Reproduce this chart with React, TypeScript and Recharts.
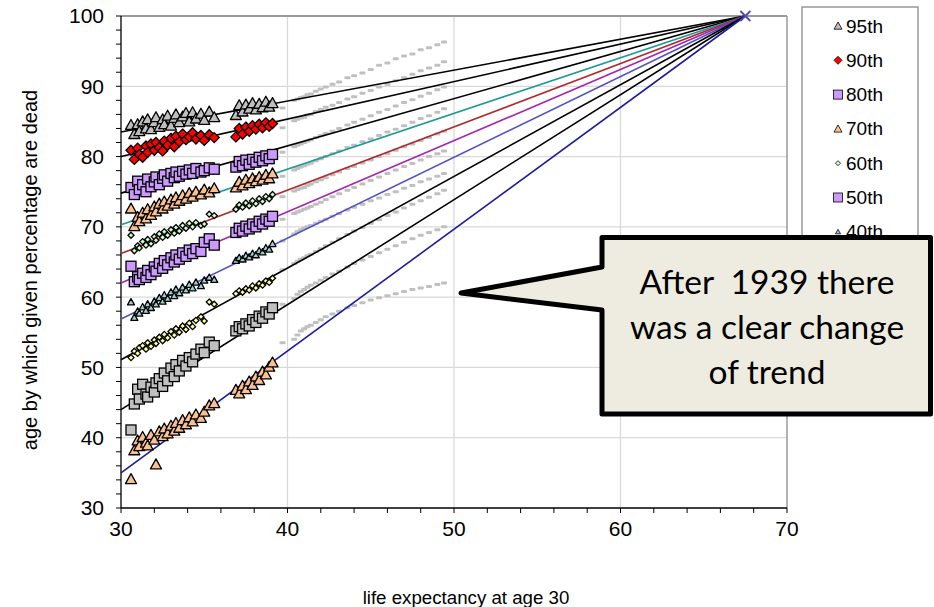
import React from 'react'
import { ComposedChart, Scatter, XAxis, YAxis, CartesianGrid, ReferenceLine } from 'recharts'

// life expectancy at age 30, one value per year up to 1939
const lifeExp = [
  30.6, 30.8, 31.0, 31.1, 31.3, 31.5, 31.6, 31.8, 32.0, 32.1, 32.3, 32.5, 32.6, 32.8,
  33.0, 33.2, 33.3, 33.5, 33.7, 33.9, 34.1, 34.3, 34.5, 34.8, 35.0, 35.3, 35.6,
  36.9, 37.1, 37.3, 37.5, 37.7, 37.9, 38.1, 38.3, 38.5, 38.7, 38.9, 39.1,
]

// age by which the given percentage are dead (same years as lifeExp)
const p95 = [84.5, 83.2, 84.6, 83.6, 85.0, 84.0, 85.3, 83.9, 84.9, 85.6, 84.2, 85.3, 84.6, 85.8, 84.4, 85.5, 86.0, 84.9, 85.7, 86.2, 85.0, 86.3, 85.4, 86.1, 85.2, 86.4, 85.6, 85.9, 87.3, 86.4, 87.4, 86.8, 87.6, 86.7, 87.5, 87.0, 87.8, 87.1, 87.6]
const p90 = [80.9, 79.6, 81.2, 80.3, 79.9, 81.5, 80.6, 81.8, 80.9, 82.0, 81.3, 80.8, 82.2, 81.6, 82.6, 81.4, 82.9, 82.1, 83.2, 82.4, 82.8, 83.4, 82.5, 83.0, 82.3, 83.1, 82.7, 82.8, 84.0, 83.2, 84.2, 83.6, 84.4, 83.9, 84.6, 84.1, 84.8, 84.3, 84.7]
const p80 = [75.6, 74.6, 76.5, 75.3, 76.0, 75.0, 76.8, 75.7, 76.4, 77.1, 76.0, 76.9, 77.4, 76.5, 77.6, 77.0, 77.8, 77.2, 77.9, 77.5, 78.1, 77.6, 78.3, 77.8, 78.0, 78.4, 78.2, 78.5, 79.3, 78.7, 79.5, 78.9, 79.6, 79.2, 79.9, 79.4, 80.1, 79.7, 80.3]
const p70 = [72.6, 70.1, 71.4, 70.8, 72.0, 71.2, 72.5, 71.7, 72.9, 72.2, 73.3, 72.6, 73.6, 73.0, 73.9, 73.3, 74.2, 73.7, 74.5, 74.0, 74.8, 74.3, 75.0, 74.6, 75.3, 74.9, 75.5, 75.6, 76.4, 75.9, 76.7, 76.2, 76.9, 76.5, 77.1, 76.7, 77.4, 76.9, 77.6]
const p60 = [68.8, 66.6, 67.3, 67.0, 67.9, 67.4, 68.2, 67.6, 68.6, 68.1, 69.0, 68.5, 69.3, 68.8, 69.6, 69.1, 69.9, 69.4, 70.2, 69.8, 70.5, 70.0, 70.6, 70.2, 70.4, 71.8, 71.6, 72.5, 73.1, 72.8, 73.4, 73.0, 73.7, 73.3, 74.0, 73.6, 74.3, 74.0, 74.6]
const p50 = [64.4, 62.2, 62.9, 62.5, 63.4, 62.8, 63.8, 63.2, 64.3, 63.7, 64.8, 64.1, 65.2, 64.6, 65.6, 65.0, 66.0, 65.4, 66.3, 65.8, 66.7, 66.2, 66.9, 66.5, 67.8, 68.3, 67.4, 69.2, 69.8, 69.4, 70.1, 69.7, 70.4, 70.0, 70.8, 70.4, 71.1, 70.8, 71.5]
const p40 = [59.3, 57.1, 58.0, 57.7, 58.6, 58.1, 59.0, 58.5, 59.4, 59.0, 59.9, 59.4, 60.3, 59.8, 60.7, 60.2, 61.1, 60.6, 61.4, 61.0, 61.8, 61.3, 62.1, 61.6, 62.4, 62.8, 62.5, 65.2, 65.6, 65.4, 65.9, 65.7, 66.2, 66.0, 66.6, 66.4, 67.0, 66.8, 67.6]
const p30 = [51.4, 52.3, 52.0, 52.8, 53.1, 52.6, 53.5, 53.0, 53.9, 53.4, 54.3, 53.8, 54.7, 54.2, 55.1, 54.6, 55.5, 55.0, 55.9, 55.4, 56.3, 55.8, 56.7, 57.2, 56.6, 59.3, 59.0, 60.5, 60.9, 60.7, 61.2, 61.0, 61.6, 61.3, 61.9, 61.7, 62.3, 62.1, 62.7]
const p20 = [41.1, 44.8, 46.9, 45.5, 47.6, 46.2, 45.8, 47.2, 46.5, 47.8, 48.4, 47.3, 49.2, 48.1, 49.9, 48.7, 50.4, 49.5, 51.0, 50.2, 51.4, 50.8, 51.9, 52.6, 52.1, 53.6, 53.1, 55.2, 55.8, 55.5, 56.2, 55.9, 56.8, 56.4, 57.3, 57.0, 57.9, 57.6, 58.5]
const p10 = [34.1, 38.2, 39.6, 38.8, 40.1, 39.3, 38.9, 40.4, 39.7, 36.2, 40.9, 40.2, 41.3, 40.6, 41.7, 41.0, 42.1, 41.4, 42.5, 41.9, 42.9, 42.3, 43.3, 42.8, 43.7, 44.6, 44.9, 46.8, 46.3, 47.4, 46.9, 48.0, 47.5, 48.7, 48.2, 49.4, 49.0, 50.1, 50.7]

// after 1939 (grey points)
const lifeExpPost = [39.7, 40.4, 40.6, 40.8, 41.0, 41.2, 41.4, 41.7, 42.0, 42.3, 42.7, 43.1, 43.6, 44.0, 44.5, 45.0, 45.5, 46.0, 46.5, 47.0, 47.5, 48.0, 48.5, 49.0, 49.4]
const g95 = [86.9, 88.0, 88.2, 88.4, 88.5, 88.8, 88.9, 89.3, 89.6, 89.9, 90.3, 90.6, 91.2, 91.5, 91.9, 92.4, 93.0, 93.3, 93.9, 94.3, 94.6, 95.2, 95.5, 95.9, 96.3]
const g90 = [84.1, 85.1, 85.3, 85.5, 85.6, 85.9, 86.0, 86.4, 86.7, 87.0, 87.3, 87.7, 88.2, 88.5, 89.0, 89.4, 89.9, 90.3, 90.8, 91.2, 91.7, 92.2, 92.6, 93.0, 93.5]
const g80 = [80.6, 81.4, 81.6, 81.8, 82.0, 82.2, 82.4, 82.7, 83.0, 83.3, 83.6, 84.0, 84.5, 84.9, 85.3, 85.8, 86.3, 86.7, 87.2, 87.7, 88.1, 88.6, 89.0, 89.5, 89.9]
const g70 = [77.2, 78.1, 78.3, 78.5, 78.7, 78.9, 79.1, 79.4, 79.7, 80.0, 80.4, 80.8, 81.3, 81.6, 82.1, 82.5, 83.0, 83.5, 83.9, 84.4, 84.9, 85.4, 85.8, 86.3, 86.8]
const g60 = [74.3, 75.1, 75.3, 75.5, 75.6, 75.9, 76.1, 76.4, 76.7, 77.0, 77.4, 77.8, 78.3, 78.6, 79.1, 79.5, 80.0, 80.4, 80.9, 81.4, 81.8, 82.3, 82.7, 83.2, 83.6]
const g50 = [71.1, 71.9, 72.1, 72.3, 72.5, 72.7, 72.9, 73.2, 73.5, 73.9, 74.3, 74.7, 75.2, 75.6, 76.1, 76.6, 77.1, 77.6, 78.1, 78.6, 79.0, 79.5, 80.0, 80.4, 80.8]
const g40 = [68.0, 69.0, 69.3, 69.6, 69.8, 70.0, 70.2, 70.5, 70.8, 71.1, 71.5, 71.9, 72.4, 72.8, 73.2, 73.7, 74.1, 74.6, 75.0, 75.5, 75.9, 76.4, 76.8, 77.2, 77.6]
const g30 = [63.9, 64.8, 65.1, 65.4, 65.6, 65.9, 66.1, 66.5, 66.9, 67.3, 67.8, 68.3, 68.9, 69.4, 69.9, 70.5, 71.0, 71.6, 72.1, 72.7, 73.2, 73.7, 74.2, 74.7, 75.2]
const g20 = [59.0, 59.8, 60.4, 60.8, 61.1, 61.4, 61.7, 62.0, 62.4, 62.8, 63.3, 63.7, 64.3, 64.8, 65.3, 65.8, 66.3, 66.8, 67.3, 67.8, 68.3, 68.8, 69.2, 69.6, 70.0]
const g10 = [53.5, 54.0, 54.6, 55.2, 55.5, 55.8, 56.0, 56.4, 56.8, 57.2, 57.6, 58.0, 58.5, 58.8, 59.2, 59.6, 59.9, 60.2, 60.5, 60.8, 61.1, 61.3, 61.5, 61.8, 62.0]

// fitted lines: value at x = 30, every line runs to the common point
const fitStart = [83.5, 80.0, 74.8, 70.3, 66.2, 62.0, 56.9, 51.1, 44.0, 35.0]
const focusX = 67.5
const focusY = 100

const labels = ['95th', '90th', '80th', '70th', '60th', '50th', '40th', '30th', '20th', '10th']
// legend rows that are not hidden behind the callout
const legendShown = 7
const xTicks = [30, 32, 34, 36, 38, 40, 42, 44, 46, 48, 50, 52, 54, 56, 58, 60, 62, 64, 66, 68, 70]
const yTicks = [30, 32, 34, 36, 38, 40, 42, 44, 46, 48, 50, 52, 54, 56, 58, 60, 62, 64, 66, 68, 70, 72, 74, 76, 78, 80, 82, 84, 86, 88, 90, 92, 94, 96, 98, 100]

const pre = [p95, p90, p80, p70, p60, p50, p40, p30, p20, p10]
const post = [g95, g90, g80, g70, g60, g50, g40, g30, g20, g10]

// marker look per percentile (same order as labels)
const markers = [
  { kind: 'triangle', size: 11, fill: '#BFBFBF', legend: 8 },
  { kind: 'diamond', size: 10, fill: '#FF0000', legend: 8 },
  { kind: 'square', size: 10, fill: '#CC99FF', legend: 9 },
  { kind: 'triangle', size: 11, fill: '#FAC090', legend: 8 },
  { kind: 'diamond', size: 6, fill: '#CCFFCC', legend: 5 },
  { kind: 'square', size: 10, fill: '#CC99FF', legend: 9 },
  { kind: 'triangle', size: 7, fill: '#9CCFD0', legend: 5 },
  { kind: 'diamond', size: 6, fill: '#FFFF99', legend: 5 },
  { kind: 'square', size: 10, fill: '#C0C0C0', legend: 9 },
  { kind: 'triangle', size: 11, fill: '#FAC090', legend: 8 },
]
const lineColors = ['#000000', '#000000', '#000000', '#1E9A96', '#B0282A', '#A224B0', '#5252C4', '#000000', '#000000', '#1C1CA0']

const toPoints = (xs: number[], ys: number[]) => xs.map((x, i) => ({ x, y: ys[i] }))

function Marker({ cx, cy, kind, size, fill, sw = 1.3 }: any) {
  if (cx == null || cy == null) return <g />
  const h = size / 2
  if (kind === 'triangle') {
    return <polygon points={`${cx},${cy - h} ${cx + h},${cy + h * 0.8} ${cx - h},${cy + h * 0.8}`} fill={fill} stroke="#000" strokeWidth={sw} strokeLinejoin="round" />
  }
  if (kind === 'diamond') {
    return <polygon points={`${cx},${cy - h} ${cx + h},${cy} ${cx},${cy + h} ${cx - h},${cy}`} fill={fill} stroke="#000" strokeWidth={sw} />
  }
  if (kind === 'square') {
    return <rect x={cx - h} y={cy - h} width={size} height={size} fill={fill} stroke="#000" strokeWidth={sw} />
  }
  if (kind === 'dash') {
    return <rect x={cx - 3} y={cy - 1.5} width={6} height={3} rx={1} fill="#C0C0C0" />
  }
  if (kind === 'cross') {
    return (
      <g stroke="#4B4BB8" strokeWidth={1.8}>
        <line x1={cx - h} y1={cy - h} x2={cx + h} y2={cy + h} />
        <line x1={cx - h} y1={cy + h} x2={cx + h} y2={cy - h} />
      </g>
    )
  }
  return <g />
}

const font = '"Liberation Sans", Arial, sans-serif'

export default function App() {
  const greyPoints = post.flatMap((ys) => toPoints(lifeExpPost, ys))
  const tickFmt = (v: number) => (v % 10 === 0 ? String(v) : '')

  return (
    <div style={{ position: 'absolute', left: 0, top: 0, width: 934, height: 607, background: '#fff', fontFamily: font }}>
      <ComposedChart width={934} height={607} margin={{ top: 16, right: 147, bottom: 0, left: 0 }}>
        <CartesianGrid
          stroke="#D9D9D9"
          strokeWidth={1.3}
          horizontalValues={[40, 50, 60, 70, 80, 90]}
          verticalValues={[40, 50, 60]}
        />
        <XAxis
          type="number"
          dataKey="x"
          domain={[30, 70]}
          ticks={xTicks}
          interval={0}
          tickFormatter={tickFmt}
          height={99}
          tickSize={5}
          tickMargin={8}
          axisLine={{ stroke: '#000', strokeWidth: 1.3 }}
          tickLine={{ stroke: '#000' }}
          tick={{ fill: '#000', fontSize: 21, fontFamily: font }}
        />
        <YAxis
          type="number"
          dataKey="y"
          domain={[30, 100]}
          ticks={yTicks}
          interval={0}
          tickFormatter={tickFmt}
          width={121}
          tickSize={5}
          tickMargin={12}
          axisLine={{ stroke: '#000', strokeWidth: 1.3 }}
          tickLine={{ stroke: '#000' }}
          tick={{ fill: '#000', fontSize: 21, fontFamily: font }}
        />
        <ReferenceLine y={100} stroke="#9A9A9A" strokeWidth={2} />
        <ReferenceLine x={70} stroke="#9A9A9A" strokeWidth={1.5} />

        <Scatter
          data={greyPoints}
          shape={(p: any) => <Marker cx={p.cx} cy={p.cy} kind="dash" />}
          isAnimationActive={false}
        />

        {fitStart.map((y0, i) => (
          <Scatter
            key={`fit-${i}`}
            data={[{ x: 30, y: y0 }, { x: focusX, y: focusY }]}
            line={{ stroke: lineColors[i], strokeWidth: 1.6 }}
            shape={() => <g />}
            isAnimationActive={false}
          />
        ))}

        {pre.map((ys, i) => (
          <Scatter
            key={`pre-${i}`}
            data={toPoints(lifeExp, ys)}
            shape={(p: any) => <Marker cx={p.cx} cy={p.cy} {...markers[i]} />}
            isAnimationActive={false}
          />
        ))}

        <Scatter
          data={[{ x: focusX, y: focusY }]}
          shape={(p: any) => <Marker cx={p.cx} cy={p.cy} kind="cross" size={10} />}
          isAnimationActive={false}
        />
      </ComposedChart>

      <svg width={934} height={607} style={{ position: 'absolute', left: 0, top: 0, pointerEvents: 'none' }}>
        {/* axis titles */}
        <text x={30} y={270} transform="rotate(-90 30 270)" textAnchor="middle" dominantBaseline="central" fontSize={20} fontFamily={font}>
          age by which given percentage are dead
        </text>
        <text x={466} y={597} textAnchor="middle" dominantBaseline="central" fontSize={18.7} fontFamily={font}>
          life expectancy at age 30
        </text>

        {/* legend */}
        <rect x={802} y={7} width={116} height={346} fill="#fff" stroke="#7F7F7F" strokeWidth={1.2} />
        {labels.slice(0, legendShown).map((lab, i) => {
          const cy = 26 + i * 34.3
          const m = markers[i]
          return (
            <g key={lab}>
              <Marker cx={838} cy={cy} kind={m.kind} size={m.legend} fill={m.fill} sw={0.8} />
              <text x={846} y={cy} dominantBaseline="central" fontSize={19} fontFamily={font}>{lab}</text>
            </g>
          )
        })}

        {/* callout */}
        <path
          d="M602,237.5 H930.5 V414 H602 V310 L461,293 L602,267 Z"
          fill="#EEECE1"
          stroke="#000"
          strokeWidth={5}
          strokeLinejoin="round"
        />
        <g fontFamily="Lato, 'Open Sans', sans-serif" fontSize={33.5} textAnchor="middle" fill="#000">
          <text x={767} y={294} xmlSpace="preserve" style={{ whiteSpace: 'pre' }}>{'After  1939 there'}</text>
          <text x={767} y={339}>was a clear change</text>
          <text x={767} y={384}>of trend</text>
        </g>
      </svg>
    </div>
  )
}
